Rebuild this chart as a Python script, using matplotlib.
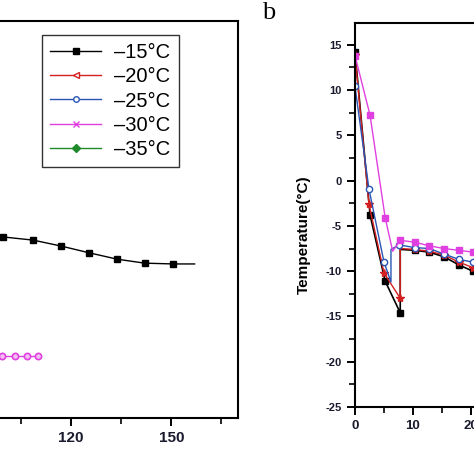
import matplotlib
matplotlib.use("Agg")
import matplotlib.pyplot as plt
from matplotlib.lines import Line2D
from matplotlib.ticker import MultipleLocator, FixedLocator

plt.rcParams['font.family'] = ['Liberation Sans', 'DejaVu Sans']
plt.rcParams['axes.unicode_minus'] = False

TICK_COLOR = '#1a1a2e'

# panel a (only the right-hand part of it is in the picture)
a_black_x = [99.5, 108.6, 117.0, 125.4, 133.8, 142.0, 150.6, 157.0]
a_black_y = [45.6, 44.8, 43.3, 41.6, 40.0, 39.0, 38.8, 38.8]
a_magenta_x = [99.3, 103.2, 106.8, 110.1]
a_magenta_y = [15.6, 15.6, 15.6, 15.6]
a_major_ticks = [120, 150]
a_minor_ticks = [105, 135, 165]

legend_labels = ['\u201315\u00b0C', '\u201320\u00b0C', '\u201325\u00b0C',
                 '\u201330\u00b0C', '\u201335\u00b0C']
series_colors = ['black', '#d42020', '#2a55b5', '#e040e0', '#1f8a2a']
legend_markers = ['s', '<', 'o', 'x', 'D']

# panel b: temperature vs time
b_black_x = [0, 2.6, 5.2, 7.8, 7.8, 10.3, 12.8, 15.3, 17.9, 20.3]
b_black_y = [14.2, -3.8, -11.1, -14.6, -7.6, -7.7, -7.9, -8.4, -9.3, -10.0]
b_red_x = [0, 2.4, 5.0, 7.8, 7.8, 10.3, 12.8, 15.3, 17.9, 20.3]
b_red_y = [13.9, -2.6, -10.2, -13.0, -7.5, -7.6, -7.8, -8.2, -9.0, -9.6]
b_blue_x = [0, 2.4, 5.0, 6.2, 6.2, 7.6, 10.3, 12.8, 15.3, 17.9, 20.3]
b_blue_y = [10.4, -0.9, -9.0, -11.2, -7.6, -7.1, -7.4, -7.5, -8.1, -8.7, -9.0]
b_magenta_x = [0, 2.6, 5.2, 6.5, 7.8, 10.3, 12.8, 15.3, 17.9, 20.3]
b_magenta_y = [13.8, 7.2, -4.1, -7.8, -6.6, -6.8, -7.2, -7.5, -7.7, -7.9]
b_major_xticks = [0, 10, 20]
b_minor_xticks = [5, 15]


def style_ticks(ax, size):
    for side in ax.spines.values():
        side.set_linewidth(1.5)
    ax.tick_params(which='major', direction='out', length=6, width=1.4,
                   colors='black', labelcolor=TICK_COLOR, labelsize=size)
    ax.tick_params(which='minor', direction='out', length=4, width=1.2)
    for lab in ax.get_xticklabels() + ax.get_yticklabels():
        lab.set_fontweight('bold')


fig = plt.figure(figsize=(4.74, 4.74), dpi=100)

# ---- panel a ----
ax1 = fig.add_axes([-0.694, 0.118, 1.196, 0.838])
ax1.plot(a_black_x, a_black_y, color='black', lw=1.0, marker='s', ms=5,
         markevery=list(range(7)))
ax1.plot(a_magenta_x, a_magenta_y, color='#e040e0', lw=1.0, marker='o', ms=4.5,
         mfc='#f4c0f4', mew=1.2)
ax1.set_xlim(0, 170)
ax1.set_ylim(0, 100)
ax1.xaxis.set_major_locator(FixedLocator(a_major_ticks))
ax1.xaxis.set_minor_locator(FixedLocator(a_minor_ticks))
ax1.set_yticks([])
style_ticks(ax1, 11)

handles = []
for lab, col, mk in zip(legend_labels, series_colors, legend_markers):
    filled = mk in ('s', 'D')
    handles.append(Line2D([], [], color=col, lw=1.0, marker=mk, ms=4,
                          mfc=col if filled else 'white', mec=col, label=lab))
fig.legend(handles=handles, loc='upper left',
           bbox_to_anchor=(42 / 474, 1 - 35 / 474), borderaxespad=0,
           frameon=True, fancybox=False, edgecolor='#333333', framealpha=1,
           prop={'size': 14.5}, handlelength=2.5, handletextpad=0.65,
           labelspacing=0.25, borderpad=0.42)

# ---- panel b ----
ax2 = fig.add_axes([355 / 474, 67 / 474, 174 / 474, 384 / 474])
ax2.plot(b_black_x, b_black_y, color='black', lw=1.2, marker='s', ms=5,
         markevery=[0, 1, 2, 3, 5, 6, 7, 8, 9])
ax2.plot(b_red_x, b_red_y, color='#d42020', lw=1.0, marker='*', ms=6,
         markevery=[0, 1, 2, 3, 5, 6, 7, 8, 9])
ax2.plot(b_blue_x, b_blue_y, color='#2a55b5', lw=1.0, marker='o', ms=4.5,
         mfc='white', mew=1.0, markevery=[0, 1, 2, 5, 6, 7, 8, 9, 10])
ax2.plot(b_magenta_x, b_magenta_y, color='#e040e0', lw=1.0, marker='s', ms=5,
         markevery=[0, 1, 2, 4, 5, 6, 7, 8, 9])
ax2.set_xlim(0, 30)
ax2.set_ylim(-25, 17.4)
ax2.xaxis.set_major_locator(FixedLocator(b_major_xticks))
ax2.xaxis.set_minor_locator(FixedLocator(b_minor_xticks))
ax2.yaxis.set_major_locator(MultipleLocator(5))
ax2.yaxis.set_minor_locator(MultipleLocator(2.5))
style_ticks(ax2, 8)
ax2.tick_params(axis='x', labelsize=9.5)
for lab in ax2.get_xticklabels() + ax2.get_yticklabels():
    lab.set_fontweight('bold')
ax2.set_ylabel('Temperature(\u00b0C)', fontsize=11, fontweight='bold')
ax2.yaxis.set_label_coords(-0.255, 0.45)

fig.text(262 / 474, 1 - 2 / 474, 'b', family='Liberation Serif', fontsize=19,
         va='top', ha='left')

fig.savefig('out.png', dpi=100)
